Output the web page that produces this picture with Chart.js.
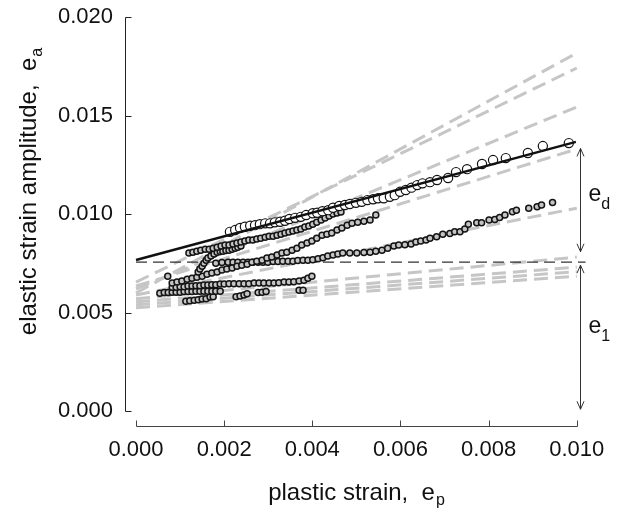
<!DOCTYPE html>
<html>
<head>
  <title>Elastic vs plastic strain</title>
  <script src="https://cdn.jsdelivr.net/npm/chart.js"></script>
  <style>
    body { margin: 0; background: #fff; }
    #chart { display: block; }
  </style>
</head>
<body>
  <canvas id="chart" width="621" height="508"></canvas>
  <script>
    // axis ticks
    const xTicks = [0, 0.002, 0.004, 0.006, 0.008, 0.010];
    const yTicks = [0, 0.005, 0.010, 0.015, 0.020];

    // large open circles, the series the solid line is fitted to
    const bigCircles = [
      [0.00213,0.00910],[0.00225,0.00919],[0.00236,0.00930],[0.00247,0.00936],[0.00259,0.00941],[0.00270,0.00944],
      [0.00281,0.00949],[0.00293,0.00953],[0.00304,0.00953],[0.00315,0.00958],[0.00327,0.00961],[0.00338,0.00966],
      [0.00348,0.00975],[0.00361,0.00981],[0.00374,0.00986],[0.00386,0.00995],[0.00401,0.01004],[0.00411,0.01007],
      [0.00423,0.01015],[0.00436,0.01020],[0.00447,0.01032],[0.00461,0.01041],[0.00474,0.01046],[0.00485,0.01051],
      [0.00499,0.01057],[0.00512,0.01062],[0.00525,0.01071],[0.00538,0.01075],[0.00549,0.01080],[0.00562,0.01080],
      [0.00576,0.01088],[0.00587,0.01096],[0.00599,0.01113],[0.00612,0.01122],[0.00625,0.01134],[0.00638,0.01147],
      [0.00650,0.01156],[0.00667,0.01162],[0.00683,0.01173],[0.00708,0.01183],[0.00726,0.01213],[0.00751,0.01228],
      [0.00785,0.01254],[0.00810,0.01274],[0.00839,0.01284],[0.00889,0.01310],[0.00923,0.01345],[0.00982,0.01360]
    ];

    // small circle series, top to bottom
    const seriesB = [
      [0.00120,0.00802],[0.00129,0.00807],[0.00138,0.00812],[0.00147,0.00817],[0.00157,0.00822],[0.00166,0.00822],
      [0.00175,0.00827],[0.00184,0.00832],[0.00193,0.00838],[0.00202,0.00843],[0.00211,0.00843],[0.00220,0.00848],
      [0.00229,0.00853],[0.00238,0.00858],[0.00247,0.00863],[0.00256,0.00868],[0.00265,0.00868],[0.00274,0.00873],
      [0.00283,0.00878],[0.00293,0.00883],[0.00302,0.00888],[0.00311,0.00888],[0.00320,0.00893],[0.00329,0.00898],
      [0.00338,0.00904],[0.00347,0.00909],[0.00356,0.00914],[0.00365,0.00919],[0.00374,0.00924],[0.00383,0.00934],
      [0.00392,0.00939],[0.00401,0.00949],[0.00410,0.00959],[0.00420,0.00970],[0.00429,0.00980],[0.00438,0.00990],
      [0.00447,0.01000],[0.00456,0.01005],[0.00465,0.01010]
    ];
    const seriesS = [
      [0.00141,0.00706],[0.00145,0.00721],[0.00150,0.00736],[0.00154,0.00751],[0.00159,0.00766],[0.00163,0.00777],
      [0.00170,0.00787],[0.00177,0.00797],[0.00184,0.00807],[0.00191,0.00810],[0.00197,0.00812],[0.00204,0.00815],
      [0.00211,0.00817],[0.00218,0.00822],[0.00225,0.00827],[0.00231,0.00832],[0.00238,0.00838]
    ];
    const seriesD = [
      [0.00082,0.00650],[0.00093,0.00655],[0.00104,0.00660],[0.00116,0.00670],[0.00127,0.00675],[0.00138,0.00680],
      [0.00150,0.00685],[0.00161,0.00695],[0.00172,0.00701],[0.00184,0.00706],[0.00195,0.00716],[0.00206,0.00721],
      [0.00218,0.00726],[0.00229,0.00736],[0.00240,0.00741],[0.00252,0.00746],[0.00263,0.00756],[0.00274,0.00761],
      [0.00286,0.00766],[0.00297,0.00777],[0.00308,0.00782],[0.00320,0.00792],[0.00331,0.00802],[0.00342,0.00807],
      [0.00354,0.00817],[0.00365,0.00827],[0.00376,0.00843],[0.00388,0.00853],[0.00399,0.00863],[0.00410,0.00878],
      [0.00422,0.00893],[0.00433,0.00898],[0.00444,0.00904],[0.00456,0.00919],[0.00467,0.00929],[0.00479,0.00944],
      [0.00490,0.00954],[0.00503,0.00959],[0.00517,0.00964],[0.00531,0.00970],[0.00544,0.00995]
    ];
    const seriesC = [
      [0.00181,0.00751],[0.00195,0.00754],[0.00209,0.00756],[0.00220,0.00756],[0.00231,0.00756],[0.00243,0.00756],
      [0.00254,0.00756],[0.00265,0.00756],[0.00277,0.00756],[0.00288,0.00756],[0.00299,0.00756],[0.00311,0.00759],
      [0.00322,0.00759],[0.00333,0.00761],[0.00345,0.00761],[0.00356,0.00761],[0.00367,0.00764],[0.00379,0.00766],
      [0.00390,0.00766],[0.00401,0.00769],[0.00413,0.00774],[0.00424,0.00779],[0.00435,0.00787],[0.00447,0.00792],
      [0.00458,0.00797],[0.00469,0.00802],[0.00485,0.00802],[0.00501,0.00802],[0.00517,0.00805],[0.00531,0.00807],
      [0.00544,0.00812],[0.00558,0.00817],[0.00571,0.00827],[0.00585,0.00838],[0.00596,0.00843],[0.00610,0.00845],
      [0.00624,0.00848],[0.00635,0.00858],[0.00646,0.00863],[0.00658,0.00868],[0.00667,0.00877],[0.00682,0.00885],
      [0.00696,0.00898],[0.00712,0.00902],[0.00723,0.00910],[0.00735,0.00910],[0.00746,0.00924],[0.00754,0.00949],
      [0.00773,0.00956],[0.00784,0.00956],[0.00801,0.00970],[0.00814,0.00973],[0.00825,0.00983],[0.00837,0.00995],
      [0.00854,0.01012],[0.00863,0.01020],[0.00891,0.01029],[0.00910,0.01037],[0.00920,0.01046],[0.00945,0.01059]
    ];
    const seriesE = [
      [0.00082,0.00629],[0.00091,0.00629],[0.00100,0.00632],[0.00109,0.00632],[0.00118,0.00635],[0.00127,0.00635],
      [0.00136,0.00637],[0.00145,0.00637],[0.00154,0.00640],[0.00163,0.00640],[0.00172,0.00642],[0.00181,0.00642],
      [0.00191,0.00645],[0.00200,0.00645],[0.00211,0.00647],[0.00222,0.00647],[0.00234,0.00647],[0.00245,0.00647],
      [0.00256,0.00647],[0.00268,0.00650],[0.00279,0.00650],[0.00290,0.00650],[0.00302,0.00650],[0.00313,0.00650],
      [0.00324,0.00652],[0.00336,0.00655],[0.00347,0.00655],[0.00358,0.00657],[0.00370,0.00660],[0.00381,0.00665],
      [0.00390,0.00675],[0.00399,0.00685]
    ];
    const seriesG = [
      [0.00054,0.00599],[0.00064,0.00602],[0.00073,0.00602],[0.00082,0.00604],[0.00091,0.00604],[0.00100,0.00604],
      [0.00109,0.00607],[0.00118,0.00607],[0.00127,0.00607],[0.00136,0.00609],[0.00145,0.00609],[0.00154,0.00609],
      [0.00163,0.00609],[0.00172,0.00609],[0.00181,0.00609],[0.00191,0.00609]
    ];
    const seriesF = [
      [0.00113,0.00558],[0.00122,0.00561],[0.00132,0.00563],[0.00141,0.00566],[0.00150,0.00569],[0.00159,0.00571],
      [0.00168,0.00579],[0.00175,0.00581],[0.00227,0.00581],[0.00236,0.00584],[0.00245,0.00589],[0.00252,0.00596],
      [0.00277,0.00602],[0.00286,0.00604],[0.00295,0.00607],[0.00370,0.00614],[0.00379,0.00614]
    ];
    const strayPoint = [[0.00072,0.00685]];

    // fitted line and reference level
    const fitLine = [[0, 0.00767], [0.00998, 0.01366]];
    const refLevel = 0.00756;
    const refEnd = 0.0102;

    // grey dashed lines: value at x = 0 and at x = 0.010
    const greyStart = [0.0060, 0.00655, 0.0062, 0.00635, 0.0059, 0.0057, 0.00555, 0.0054, 0.00525];
    const greyEnd   = [0.01817, 0.01741, 0.01543, 0.0133, 0.0103, 0.00782, 0.00731, 0.00708, 0.00685];

    // e_d and e_1 arrows (x position, then top / bottom values)
    const arrowX = 0.01007;
    const edArrow = [0.01333, 0.00809];
    const e1Arrow = [0.00741, 0.0001];

    const FONT = '"Liberation Sans", Arial, sans-serif';
    const toPts = arr => arr.map(p => ({ x: p[0], y: p[1] }));

    function smallSet(arr) {
      return {
        data: toPts(arr),
        pointRadius: 3,
        pointBorderWidth: 1.5,
        pointBorderColor: '#141414',
        pointBackgroundColor: '#c4c4c4',
        showLine: false
      };
    }

    const datasets = [];
    // first in the list is drawn on top
    datasets.push({
      data: toPts(fitLine), showLine: true, borderColor: '#111', borderWidth: 2.4, pointRadius: 0
    });
    datasets.push({
      data: toPts(bigCircles), pointRadius: 4.6, pointBorderWidth: 1.2,
      pointBorderColor: '#111', pointBackgroundColor: '#fff', showLine: false
    });
    [seriesB, seriesS, seriesD, seriesC, seriesE, seriesG, seriesF, strayPoint].forEach(s => datasets.push(smallSet(s)));
    datasets.push({
      data: [{ x: 0, y: refLevel }, { x: refEnd, y: refLevel }], showLine: true,
      borderColor: '#333', borderWidth: 1.2, borderDash: [11, 6], pointRadius: 0
    });
    greyStart.forEach((v, i) => {
      datasets.push({
        data: [{ x: 0, y: v }, { x: 0.010, y: greyEnd[i] }], showLine: true,
        borderColor: '#c6c6c6', borderWidth: 3, borderDash: [14, 7], pointRadius: 0
      });
    });

    function drawSub(ctx, main, sub, x, y, size, subSize, drop) {
      ctx.font = size + 'px ' + FONT;
      const w1 = ctx.measureText(main).width;
      ctx.font = subSize + 'px ' + FONT;
      const w2 = ctx.measureText(sub).width;
      const start = x - (w1 + w2) / 2;
      ctx.textAlign = 'left';
      ctx.textBaseline = 'alphabetic';
      ctx.font = size + 'px ' + FONT;
      ctx.fillText(main, start, y);
      ctx.font = subSize + 'px ' + FONT;
      ctx.fillText(sub, start + w1 + 1, y + drop);
    }

    function drawArrow(ctx, xp, yTop, yBot) {
      ctx.beginPath();
      ctx.moveTo(xp, yTop); ctx.lineTo(xp, yBot);
      ctx.moveTo(xp - 3.5, yTop + 8); ctx.lineTo(xp, yTop); ctx.lineTo(xp + 3.5, yTop + 8);
      ctx.moveTo(xp - 3.5, yBot - 8); ctx.lineTo(xp, yBot); ctx.lineTo(xp + 3.5, yBot - 8);
      ctx.stroke();
    }

    const axesAndNotes = {
      id: 'axesAndNotes',
      afterDraw(chart) {
        const { ctx, chartArea } = chart;
        const xs = chart.scales.x, ys = chart.scales.y;
        ctx.save();
        ctx.strokeStyle = '#222';
        ctx.lineWidth = 1;

        // y axis with inward ticks
        const ax = Math.round(chartArea.left) + 0.5;
        ctx.beginPath();
        ctx.moveTo(ax, Math.round(ys.getPixelForValue(yTicks[yTicks.length - 1])) + 0.5);
        ctx.lineTo(ax, Math.round(ys.getPixelForValue(0)) + 0.5);
        yTicks.forEach(v => {
          const p = Math.round(ys.getPixelForValue(v)) + 0.5;
          ctx.moveTo(ax, p); ctx.lineTo(ax + 6, p);
        });
        ctx.stroke();

        // x axis, detached below the plot
        const ay = Math.round(chartArea.bottom) - 0.5;
        ctx.strokeStyle = '#444';
        ctx.beginPath();
        ctx.moveTo(Math.round(xs.getPixelForValue(0)) + 0.5, ay);
        ctx.lineTo(Math.round(xs.getPixelForValue(0.010)) + 0.5, ay);
        xTicks.forEach(v => {
          const p = Math.round(xs.getPixelForValue(v)) + 0.5;
          ctx.moveTo(p, ay); ctx.lineTo(p, ay - 6);
        });
        ctx.stroke();

        // arrows
        ctx.strokeStyle = '#333';
        const axp = Math.round(xs.getPixelForValue(arrowX)) + 0.5;
        drawArrow(ctx, axp, ys.getPixelForValue(edArrow[0]), ys.getPixelForValue(edArrow[1]));
        drawArrow(ctx, axp, ys.getPixelForValue(e1Arrow[0]), ys.getPixelForValue(e1Arrow[1]));

        ctx.fillStyle = '#111';
        // e_d and e_1
        const lx = axp + 8;
        ctx.textAlign = 'left';
        ctx.textBaseline = 'alphabetic';
        ctx.font = '23px ' + FONT;
        ctx.fillText('e', lx, 201);
        ctx.fillText('e', lx, 333);
        const ew = ctx.measureText('e').width;
        ctx.font = '16px ' + FONT;
        ctx.fillText('d', lx + ew, 209);
        ctx.fillText('1', lx + ew, 341);

        // axis titles
        drawSub(ctx, 'plastic strain,  e', 'p', 356, 500, 24, 16, 5);
        ctx.translate(36, 192);
        ctx.rotate(-Math.PI / 2);
        drawSub(ctx, 'elastic strain amplitude,  e', 'a', 0, 0, 24, 16, 6);
        ctx.restore();
      }
    };

    new Chart(document.getElementById('chart'), {
      type: 'scatter',
      data: { datasets: datasets },
      options: {
        responsive: false,
        animation: false,
        events: [],
        layout: { padding: { left: 0, right: 31, top: 13, bottom: 0 } },
        plugins: { legend: { display: false }, tooltip: { enabled: false } },
        scales: {
          x: {
            type: 'linear',
            min: -0.00025,
            max: 0.0103,
            grid: { display: false, drawTicks: false },
            border: { display: false },
            ticks: {
              padding: 10,
              color: '#111',
              font: { family: FONT, size: 22 },
              autoSkip: false,
              maxRotation: 0,
              callback: v => v.toFixed(3)
            },
            afterBuildTicks: s => { s.ticks = xTicks.map(v => ({ value: v })); },
            afterFit: s => { s.height = 81; s.paddingLeft = 0; s.paddingRight = 0; }
          },
          y: {
            type: 'linear',
            min: -0.0008,
            max: 0.0202,
            grid: { display: false, drawTicks: false },
            border: { display: false },
            ticks: {
              padding: 12,
              color: '#111',
              font: { family: FONT, size: 22 },
              autoSkip: false,
              callback: v => v.toFixed(3)
            },
            afterBuildTicks: s => { s.ticks = yTicks.map(v => ({ value: v })); },
            afterFit: s => { s.width = 125; s.paddingTop = 0; s.paddingBottom = 0; }
          }
        }
      },
      plugins: [axesAndNotes]
    });
  </script>
</body>
</html>
